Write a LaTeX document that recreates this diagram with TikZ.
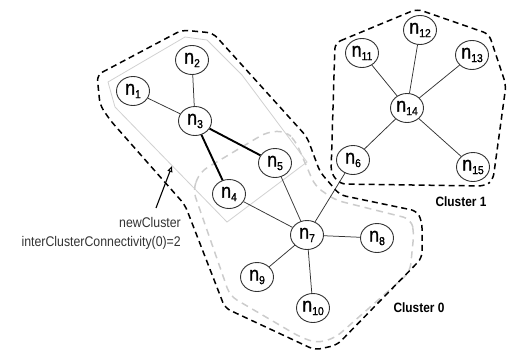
\documentclass[tikz,border=0pt]{standalone}
\usepackage{fontspec}
\setmainfont{Liberation Sans}
\newfontfamily\narrow[FakeStretch=0.88]{Liberation Sans}
\newfontfamily\narrowb[FakeStretch=0.9,FakeBold=1.2]{Liberation Sans}
\usetikzlibrary{arrows.meta,shapes.geometric}
\newcommand{\nlab}[1]{{\narrowb\fontsize{20}{20}\selectfont n}\raisebox{-3.5pt}{\narrowb\fontsize{11.5}{11.5}\selectfont #1}}
\begin{document}
\begin{tikzpicture}[x=1pt,y=-1pt,
  nd/.style={ellipse, draw=black!80, line width=0.9pt, minimum width=33pt, minimum height=29pt, inner sep=0pt},
  edge/.style={draw=black!80, line width=0.75pt},
  thickedge/.style={draw=black, line width=1.9pt},
  clus/.style={draw=black, line width=1.5pt, dash pattern=on 6pt off 4pt, rounded corners=6pt},
  oldclus/.style={draw=black!20, line width=1.5pt, dash pattern=on 7pt off 5pt, rounded corners=8pt},
  newclus/.style={draw=black!18, line width=0.8pt},
  clabel/.style={font=\narrow\bfseries\fontsize{13.5}{13.5}\selectfont},
  note/.style={font=\narrow\fontsize{14}{14}\selectfont, text=black!80, inner sep=0pt}
]
\useasboundingbox (0,0) rectangle (508,351);

% newCluster light gray outline
\draw[newclus] (108,82) -- (185,37) -- (207,40) -- (242,75) -- (307,162) -- (227,222) -- (115,107) -- cycle;

% old cluster 0 gray dashed outline
\draw[oldclus] (193,190) -- (200,172) -- (267,132) -- (285,131) -- (295,140) -- (306,165) -- (315,186) -- (335,200) -- (411,219) -- (414,232) -- (410,272) -- (335,338) -- (317,343) -- (300,337) -- (230,296) -- cycle;

% cluster 0 dashed outline
\draw[clus] (97,75) -- (182,30) -- (213,33) -- (307,137) -- (320,172) -- (340,195) -- (417,211) -- (422,222) -- (422,258) -- (337,345) -- (315,350) -- (225,308) -- (185,205) -- (110,120) -- (100,105) -- cycle;

% cluster 1 dashed outline
\draw[clus] (335,43) -- (417,9) -- (489,34) -- (506,85) -- (493,180) -- (485,186) -- (340,184) -- (331,173) -- cycle;

% nodes
\node[nd] (n1) at (133,91) {\nlab{1}};
\node[nd] (n2) at (192,60) {\nlab{2}};
\node[nd] (n3) at (195,121) {\nlab{3}};
\node[nd] (n4) at (229,194) {\nlab{4}};
\node[nd] (n5) at (275,163) {\nlab{5}};
\node[nd] (n6) at (353,160) {\nlab{6}};
\node[nd] (n7) at (307,235) {\nlab{7}};
\node[nd] (n8) at (377,238) {\nlab{8}};
\node[nd] (n9) at (257,277) {\nlab{9}};
\node[nd] (n10) at (313,308) {\nlab{10}};
\node[nd] (n11) at (362,53) {\nlab{11}};
\node[nd] (n12) at (420,30) {\nlab{12}};
\node[nd] (n13) at (472,55) {\nlab{13}};
\node[nd] (n14) at (407,108) {\nlab{14}};
\node[nd] (n15) at (473,167) {\nlab{15}};

% edges
\draw[edge] (n1) -- (n3);
\draw[edge] (n2) -- (n3);
\draw[thickedge] (n3) -- (n5);
\draw[thickedge] (n3) -- (n4);
\draw[edge] (n4) -- (n7);
\draw[edge] (n5) -- (n7);
\draw[edge] (n7) -- (n6);
\draw[edge] (n7) -- (n8);
\draw[edge] (n7) -- (n9);
\draw[edge] (n7) -- (n10);
\draw[edge] (n14) -- (n6);
\draw[edge] (n14) -- (n11);
\draw[edge] (n14) -- (n12);
\draw[edge] (n14) -- (n13);
\draw[edge] (n14) -- (n15);

% labels
\node[clabel] (c1) at (461,202) {Cluster 1};
\node[clabel] (c0) at (419,308) {Cluster 0};
\node[note, anchor=base east] (nc1) at (181,227) {newCluster};
\node[note, anchor=base east] (nc2) at (181,246) {interClusterConnectivity(0)=2};
\coordinate (arrs) at (156,208);
\coordinate (arrt) at (172,166);
\draw[black, line width=1.1pt, -{Triangle[open, length=6pt, width=5pt]}] (arrs) -- (arrt);
\end{tikzpicture}
\end{document}
